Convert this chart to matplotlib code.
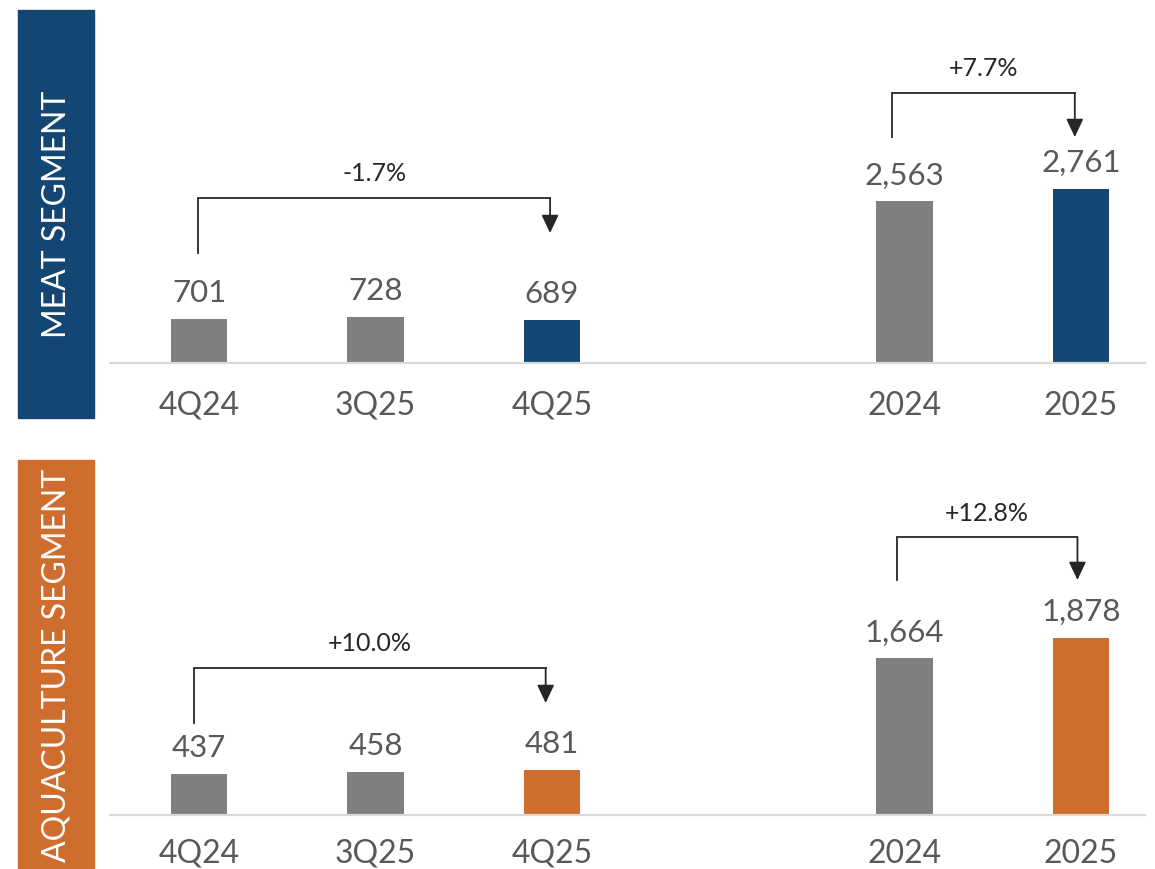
import matplotlib.pyplot as plt
from matplotlib.patches import Rectangle

# data
categories = ['4Q24', '3Q25', '4Q25', '2024', '2025']
meat = [701, 728, 689, 2563, 2761]
aqua = [437, 458, 481, 1664, 1878]
meat_changes = ['-1.7%', '+7.7%']
aqua_changes = ['+10.0%', '+12.8%']

x_pos = [0, 1, 2, 4, 5]
GRAY = '#7f7f7f'
BLUE = '#134673'
ORANGE = '#ce6d2e'
TXT = '#595959'
DARK = '#262626'

plt.rcParams['font.family'] = ['Lato', 'DejaVu Sans']

W, H = 1155, 869
fig = plt.figure(figsize=(W / 100, H / 100), dpi=100)


def px_rect(x0, y0, x1, y1):
    # pixel box (top-left origin) -> figure fraction
    return [x0 / W, 1 - y1 / H, (x1 - x0) / W, (y1 - y0) / H]


def draw_panel(rect, values, color, ytop, changes, brackets, pad):
    ax = fig.add_axes(rect)
    colors = [GRAY, GRAY, color, GRAY, color]
    ax.bar(x_pos, values, width=0.32, color=colors)
    ax.set_xlim(-0.505, 5.363)
    ax.set_ylim(0, ytop)
    for s in ['top', 'left', 'right']:
        ax.spines[s].set_visible(False)
    ax.spines['bottom'].set_color('#d9d9d9')
    ax.spines['bottom'].set_linewidth(1.6)
    ax.set_yticks([])
    ax.set_xticks(x_pos)
    ax.set_xticklabels(categories, fontsize=23, color=TXT)
    ax.tick_params(axis='x', length=0, pad=pad)
    for xp, v in zip(x_pos, values):
        ax.annotate(f'{v:,}', (xp, v), xytext=(0, 12), textcoords='offset points',
                    ha='center', va='baseline', fontsize=22.5, color=TXT)
    # change brackets: (from idx, to idx, start, level, tip, text y, dx0, dx1)
    for label, (i0, i1, y0, lvl, tip, ty, d0, d1) in zip(changes, brackets):
        xa = x_pos[i0] + d0
        xb = x_pos[i1] + d1
        ax.plot([xa, xa, xb], [y0, lvl, lvl], color=DARK, lw=1.3, solid_joinstyle='miter')
        ax.annotate('', xy=(xb, tip), xytext=(xb, lvl),
                    arrowprops=dict(arrowstyle='-|>,head_length=0.55,head_width=0.26',
                                    mutation_scale=20, color=DARK, lw=1.3,
                                    shrinkA=0, shrinkB=0))
        ax.text((xa + xb) / 2, ty, label, ha='center', va='center', fontsize=18, color=DARK)
    return ax


meat_brackets = [(0, 2, 1744, 2615, 2060, 2996, -0.005, -0.01),
                 (3, 4, 3582, 4280, 3582, 4676, -0.07, -0.035)]
aqua_brackets = [(0, 2, 975, 1558, 1187, 1823, -0.03, -0.035),
                 (3, 4, 2491, 2947, 2491, 3201, -0.045, -0.02)]

draw_panel(px_rect(110, 0, 1145, 363), meat, BLUE, 5754, meat_changes, meat_brackets, 20)
draw_panel(px_rect(110, 440, 1145, 815), aqua, ORANGE, 3975, aqua_changes, aqua_brackets, 17)

# side label boxes
fig.patches.append(Rectangle(px_rect(18, 10, 94, 418)[:2], 76 / W, 408 / H,
                             transform=fig.transFigure, color=BLUE, zorder=0))
fig.patches.append(Rectangle(px_rect(18, 460, 94, 869)[:2], 76 / W, 409 / H,
                             transform=fig.transFigure, color=ORANGE, zorder=0))
fig.text(57 / W, 1 - 214 / H, 'MEAT SEGMENT', rotation=90, ha='center', va='center',
         color='white', fontsize=23)
fig.text(57 / W, 1 - 665 / H, 'AQUACULTURE SEGMENT', rotation=90, ha='center', va='center',
         color='white', fontsize=23)

fig.savefig('out.png', dpi=100)
